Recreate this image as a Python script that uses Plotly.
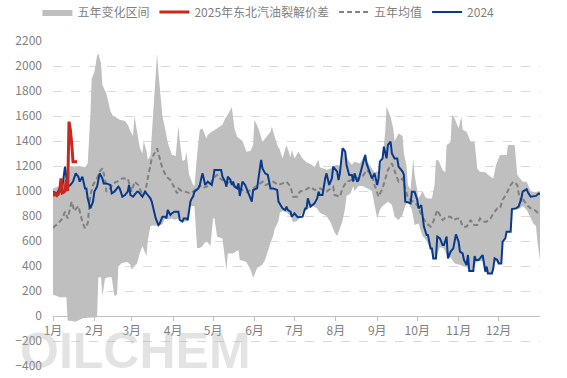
import plotly.graph_objects as go

# ---------------- data ----------------
month_labels = ["1月", "2月", "3月", "4月", "5月", "6月", "7月", "8月", "9月", "10月", "11月", "12月"]
month_start_days = [0, 31, 59, 90, 120, 151, 181, 212, 243, 273, 304, 334]

# five-year range, upper edge (day of year, value)
band_upper_day = [0, 4, 7, 9, 11, 13, 16, 20, 24, 26, 28, 29, 31, 33, 34, 36, 37, 39, 40, 43, 45, 47, 50, 54, 56, 58, 60, 61,
                  63, 65, 67, 68, 70, 71, 73, 74, 76, 77, 78, 79, 81, 82, 84, 86, 89, 92, 94, 95, 97, 99, 100, 102, 105,
                  106, 108, 110, 112, 115, 116, 119, 123, 127, 129, 131, 134, 136, 138, 140, 142, 145, 148, 150, 151, 154,
                  157, 159, 163, 164, 166, 168, 170, 172, 175, 178, 179, 181, 184, 187, 190, 194, 196, 199, 200, 202, 205,
                  208, 210, 213, 215, 217, 219, 221, 224, 226, 230, 234, 236, 239, 241, 244, 247, 249, 250, 253, 255, 256,
                  259, 262, 263, 265, 266, 268, 270, 271, 274, 277, 279, 281, 284, 286, 287, 289, 292, 294, 295, 298, 299,
                  301, 303, 304, 306, 307, 310, 313, 316, 318, 320, 324, 326, 330, 332, 335, 340, 341, 346, 348, 352, 355,
                  358, 361, 365]
band_upper_val = [1020, 1040, 1050, 1200, 1090, 1200, 1190, 1200, 1190, 1220, 1600, 1900, 1950, 2080, 2100, 2020, 1850, 1800,
                  1780, 1640, 1600, 1590, 1570, 1560, 1530, 1480, 1440, 1600, 1480, 1350, 1300, 1400, 1320, 1250, 1280,
                  1450, 1700, 1900, 2100, 1950, 1750, 1600, 1500, 1390, 1290, 1280, 1520, 1400, 1240, 1250, 1315, 1130,
                  1050, 1040, 1290, 1490, 1500, 1420, 1450, 1475, 1500, 1530, 1580, 1610, 1670, 1500, 1435, 1420, 1400,
                  1315, 1320, 1370, 1570, 1500, 1395, 1420, 1475, 1515, 1440, 1368, 1330, 1261, 1368, 1270, 1330, 1261,
                  1315, 1260, 1230, 1210, 1190, 1250, 1190, 1180, 1170, 1180, 1200, 1210, 1200, 1350, 1340, 1250, 1210,
                  1235, 1220, 1300, 1230, 1180, 1150, 1160, 1260, 1475, 1675, 1595, 1500, 1400, 1461, 1440, 1300, 1200,
                  1048, 1010, 1261, 1130, 941, 1000, 950, 940, 940, 1050, 1248, 1245, 1168, 1150, 1368, 1390, 1608, 1580,
                  1515, 1500, 1595, 1490, 1475, 1395, 1390, 1181, 1155, 1150, 1130, 1101, 1208, 1288, 1288, 1368, 1368,
                  1128, 1075, 1075, 1000, 990, 1000]

# five-year range, lower edge
band_lower_day = [0, 3, 5, 10, 11, 14, 17, 20, 23, 28, 33, 34, 36, 37, 39, 41, 44, 46, 48, 49, 51, 54, 56, 58, 59, 61, 63,
                  65, 67, 70, 71, 73, 75, 79, 82, 84, 86, 89, 91, 94, 97, 99, 101, 103, 106, 108, 110, 112, 114, 116, 118,
                  120, 121, 123, 125, 127, 130, 131, 135, 139, 140, 143, 145, 148, 150, 151, 153, 157, 159, 160, 163, 165,
                  166, 169, 170, 172, 175, 178, 180, 183, 185, 187, 190, 195, 198, 200, 203, 205, 208, 210, 211, 213, 215,
                  217, 219, 220, 223, 225, 226, 229, 232, 234, 236, 239, 241, 243, 245, 247, 251, 254, 256, 259, 262, 264,
                  266, 269, 271, 274, 275, 277, 280, 283, 285, 287, 290, 293, 296, 298, 301, 305, 308, 310, 312, 315, 317,
                  320, 322, 324, 326, 329, 331, 334, 336, 337, 340, 343, 344, 347, 350, 352, 355, 358, 360, 362, 363, 365]
band_lower_val = [170, 160, 150, 150, -35, -40, -45, -30, -15, -10, -10, 310, 310, 160, 300, 310, 310, 160, 170, 395, 420,
                  430, 430, 410, 370, 400, 420, 500, 560, 480, 600, 720, 725, 720, 735, 781, 770, 781, 770, 781, 760, 755,
                  760, 880, 880, 544, 545, 560, 590, 590, 560, 784, 780, 635, 630, 620, 365, 501, 500, 528, 448, 440, 430,
                  373, 307, 330, 387, 413, 450, 493, 587, 640, 693, 760, 827, 840, 830, 800, 750, 760, 790, 830, 850, 880,
                  860, 827, 810, 800, 750, 693, 670, 640, 700, 760, 870, 960, 980, 1040, 1000, 1040, 1040, 1030, 1021,
                  1000, 888, 781, 850, 880, 915, 890, 795, 768, 810, 880, 915, 850, 728, 740, 700, 640, 600, 530, 461, 461,
                  550, 540, 461, 470, 420, 410, 395, 395, 360, 360, 430, 440, 440, 355, 341, 341, 440, 420, 420, 595, 670,
                  670, 856, 850, 860, 880, 850, 780, 740, 720, 600, 450]

# five-year average
mean_day = [0, 4, 7, 9, 11, 14, 16, 19, 22, 24, 26, 28, 30, 33, 35, 37, 39, 40, 43, 45, 48, 50, 52, 56, 59, 61, 64, 67, 69,
            71, 74, 78, 80, 82, 85, 88, 90, 93, 94, 97, 99, 103, 105, 108, 110, 112, 115, 118, 120, 123, 125, 127, 130,
            133, 135, 138, 140, 144, 145, 150, 157, 159, 163, 165, 169, 172, 175, 178, 180, 183, 185, 189, 193, 196, 200,
            205, 210, 211, 215, 217, 220, 224, 228, 232, 235, 239, 241, 244, 247, 249, 251, 254, 256, 259, 262, 264, 266,
            270, 273, 275, 277, 280, 283, 285, 288, 290, 292, 295, 298, 300, 303, 305, 307, 310, 313, 315, 318, 320, 322,
            325, 328, 330, 333, 335, 337, 340, 343, 345, 348, 349, 351, 352, 355, 358, 361, 365]
mean_val = [707, 741, 780, 835, 780, 915, 840, 880, 755, 701, 740, 968, 1048, 1101, 1155, 1181, 1101, 995, 1020, 1061, 1075,
            1085, 1101, 1101, 995, 1075, 1048, 968, 981, 1101, 1261, 1341, 1261, 1181, 1115, 1088, 1048, 981, 1021, 995,
            995, 981, 995, 1021, 1048, 1021, 1035, 1048, 1101, 1128, 1101, 1088, 1061, 1075, 1048, 1035, 1021, 995, 990,
            1020, 1075, 1048, 1061, 1075, 1048, 1061, 1075, 1035, 955, 955, 995, 1008, 1034, 1008, 1021, 995, 1034, 968,
            955, 1021, 1075, 1088, 1101, 1115, 1168, 1128, 1048, 955, 1021, 1101, 1168, 1221, 1155, 1075, 1101, 1021, 941,
            915, 888, 835, 790, 741, 715, 755, 848, 808, 768, 795, 795, 768, 781, 781, 715, 715, 768, 728, 728, 781, 755,
            755, 781, 821, 861, 861, 928, 981, 1048, 1075, 1048, 981, 915, 941, 888, 861, 848, 808]

# 2024 spread
y2024_day = [0, 3, 5, 7, 9, 10, 11, 13, 15, 17, 19, 20, 22, 24, 25, 26, 28, 30, 31, 33, 34, 35, 37, 38, 40, 43, 44, 46, 49,
             50, 52, 54, 56, 57, 58, 60, 63, 64, 67, 69, 71, 73, 74, 76, 77, 79, 80, 82, 84, 85, 86, 88, 89, 91, 94, 95,
             97, 98, 100, 101, 103, 104, 105, 106, 109, 110, 112, 113, 114, 116, 119, 120, 121, 124, 126, 127, 129, 130,
             131, 133, 134, 135, 136, 138, 139, 140, 142, 144, 146, 148, 149, 150, 153, 154, 156, 157, 159, 161, 163, 165,
             168, 169, 172, 174, 175, 176, 178, 179, 181, 183, 184, 187, 188, 189, 190, 191, 193, 195, 196, 198, 199, 200,
             202, 204, 205, 207, 209, 210, 213, 214, 215, 217, 219, 220, 222, 224, 225, 226, 228, 229, 232, 234, 235, 238,
             239, 241, 243, 244, 245, 247, 248, 250, 251, 253, 254, 256, 258, 259, 262, 263, 264, 266, 268, 269, 271, 273,
             274, 276, 277, 278, 280, 281, 283, 284, 285, 287, 288, 290, 292, 293, 295, 296, 298, 300, 302, 304, 305, 307,
             308, 310, 311, 312, 315, 316, 317, 319, 320, 322, 324, 325, 326, 329, 330, 331, 333, 334, 336, 337, 339, 340,
             343, 344, 347, 349, 351, 352, 355, 356, 358, 360, 362, 364, 365]
y2024_val = [995, 981, 1021, 1035, 1195, 1101, 1035, 1048, 1075, 1141, 1115, 1075, 1115, 1021, 1021, 941, 861, 915, 995, 1035,
             1101, 1141, 1101, 1061, 1061, 1048, 981, 995, 1035, 1021, 955, 968, 995, 1048, 968, 955, 995, 995, 955, 995,
             968, 941, 915, 835, 781, 728, 741, 795, 795, 781, 848, 808, 821, 835, 835, 768, 755, 781, 781, 768, 915, 941,
             955, 995, 1021, 1048, 1141, 1101, 1048, 1075, 1048, 1101, 1168, 1168, 1168, 1115, 1075, 1035, 1115, 1088, 1048,
             1075, 1035, 1021, 1061, 960, 1075, 1048, 995, 941, 915, 1008, 1021, 1101, 1248, 1181, 1141, 1128, 1021, 1021,
             1008, 915, 861, 848, 875, 848, 835, 795, 821, 795, 790, 795, 835, 861, 861, 941, 875, 888, 901, 941, 995, 968,
             968, 1101, 1141, 1048, 1101, 1195, 1155, 1088, 1141, 1341, 1315, 1208, 1128, 1128, 1075, 1141, 1075, 1088,
             1208, 1288, 1221, 1128, 1101, 1141, 1048, 1101, 1235, 1261, 1355, 1261, 1368, 1395, 1301, 1261, 1261, 1195,
             1155, 1128, 915, 910, 901, 995, 995, 928, 861, 888, 781, 715, 648, 648, 541, 541, 461, 461, 635, 621, 568,
             568, 635, 461, 515, 541, 653, 595, 515, 501, 448, 408, 488, 360, 360, 480, 448, 448, 461, 488, 355, 395, 341,
             341, 381, 461, 448, 421, 421, 595, 621, 675, 675, 856, 861, 875, 941, 995, 1015, 988, 955, 961, 961, 981, 975]

# 2025 spread (north-east gasoline crack)
y2025_day = [0, 1, 2, 3, 4, 5, 6, 7, 8, 9, 10, 11, 12, 13, 14, 15, 18]
y2025_val = [990, 960, 985, 965, 975, 1000, 1101, 985, 990, 1000, 1090, 1000, 1555, 1490, 1381, 1235, 1235]

# ---------------- figure ----------------
FONT = "Microsoft YaHei, Noto Sans CJK SC, sans-serif"
TXT = "#7f7f7f"

fig = go.Figure()

fig.add_trace(go.Scatter(
    x=band_upper_day + band_lower_day[::-1],
    y=band_upper_val + band_lower_val[::-1],
    fill="toself", fillcolor="#bfbfbf", line=dict(width=0, color="#bfbfbf"),
    mode="lines", name="五年变化区间", legendrank=1, hoverinfo="skip"))

fig.add_trace(go.Scatter(
    x=mean_day, y=mean_val, mode="lines", name="五年均值", legendrank=3,
    line=dict(color="#808080", width=2, dash="5px,3px")))

fig.add_trace(go.Scatter(
    x=y2024_day, y=y2024_val, mode="lines", name="2024", legendrank=4,
    line=dict(color="#083a8c", width=2)))

fig.add_trace(go.Scatter(
    x=y2025_day, y=y2025_val, mode="lines", name="2025年东北汽油裂解价差", legendrank=2,
    line=dict(color="#c8281e", width=3)))

fig.add_annotation(
    text="<b>OILCHEM</b>", xref="paper", yref="paper", x=-0.072, y=0.045,
    xanchor="left", yanchor="middle", showarrow=False,
    font=dict(family="Liberation Sans Narrow, Arial Narrow, Liberation Sans, sans-serif", size=50,
              color="rgba(175,175,175,0.35)"))

fig.update_layout(
    width=567, height=378,
    margin=dict(l=53, r=27, t=41, b=12, autoexpand=False),
    paper_bgcolor="white", plot_bgcolor="white",
    font=dict(family=FONT, size=12, color=TXT),
    showlegend=True,
    legend=dict(orientation="h", x=-0.032, xanchor="left", y=1.089, yanchor="middle",
                font=dict(family=FONT, size=12, color=TXT), itemwidth=30,
                bgcolor="rgba(0,0,0,0)", traceorder="normal"),
    xaxis=dict(range=[0, 365], tickmode="array", tickvals=month_start_days, ticktext=month_labels,
               showgrid=False, zeroline=False, showline=True, linecolor="#bfbfbf", linewidth=1,
               ticks="outside", ticklen=4, tickcolor="#bfbfbf",
               anchor="free", position=400 / 2600, automargin=False,
               tickfont=dict(family=FONT, size=12, color=TXT)),
    yaxis=dict(range=[-400, 2200], dtick=200, tick0=0, showgrid=True, gridcolor="#d9d9d9",
               griddash="dash", gridwidth=1, zeroline=False, showline=False, automargin=False,
               ticklabelstandoff=10,
               tickfont=dict(family=FONT, size=12, color=TXT)),
)

# remove the browser's default 8px page margin so the figure fills the window
fig.write_html("out.html", config={"displayModeBar": False},
               post_script="document.body.style.margin='0';")
